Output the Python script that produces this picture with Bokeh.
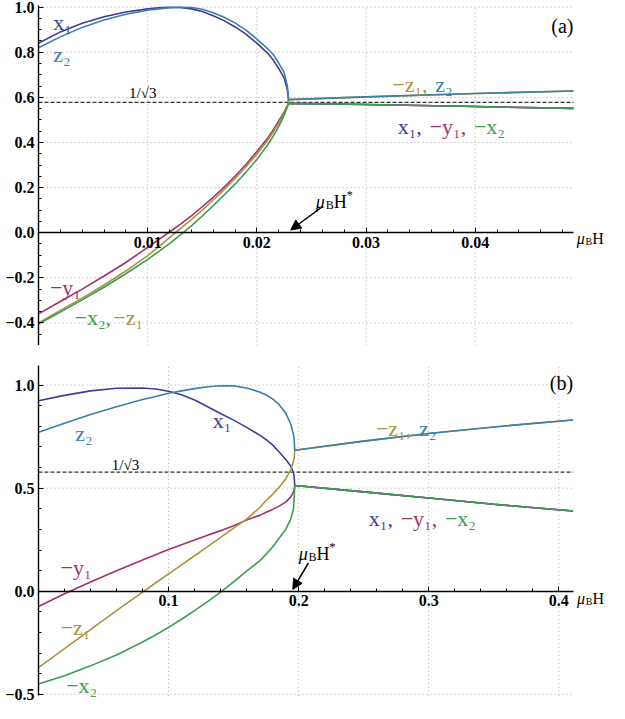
import numpy as np
from bokeh.plotting import figure
from bokeh.layouts import column
from bokeh.models import Range1d, FixedTicker, Label, Arrow, NormalHead, CustomJSTickFormatter
from bokeh.embed import file_html
from bokeh.resources import INLINE

# ---------------- colours ----------------
C_X1 = "#3d3d9e"
C_Y1 = "#a3316f"
C_Z1 = "#a8953b"
C_X2 = "#3b9d54"
C_Z2 = "#3b80a8"
FONT = "Liberation Serif"

# ---------------- panel (a) data ----------------
Hs_a = 0.0229
Ha_pre = [0.0, 0.002, 0.004, 0.006, 0.008, 0.010, 0.011, 0.012, 0.013, 0.014, 0.015, 0.016,
          0.017, 0.018, 0.019, 0.020, 0.021, 0.0215, 0.022, 0.0225, 0.0228, 0.0229]
x1_a = [0.84, 0.89, 0.928, 0.957, 0.978, 0.992, 0.997, 0.999, 0.998, 0.992, 0.98, 0.962,
        0.94, 0.912, 0.88, 0.84, 0.795, 0.765, 0.728, 0.685, 0.632, 0.59]
z2_a = [0.82, 0.868, 0.91, 0.943, 0.968, 0.986, 0.992, 0.997, 0.999, 0.998, 0.99, 0.975,
        0.955, 0.93, 0.898, 0.858, 0.815, 0.79, 0.752, 0.71, 0.648, 0.598]
neg_y1_a = [-0.36, -0.305, -0.25, -0.192, -0.132, -0.065, -0.031, 0.003, 0.038, 0.075, 0.115,
            0.157, 0.202, 0.25, 0.302, 0.36, 0.42, 0.455, 0.495, 0.535, 0.563, 0.58]
neg_z1_a = [-0.40, -0.345, -0.29, -0.232, -0.17, -0.102, -0.063, -0.022, 0.018, 0.058, 0.1,
            0.145, 0.191, 0.24, 0.292, 0.348, 0.41, 0.446, 0.486, 0.53, 0.562, 0.58]
neg_x2_a = [-0.405, -0.352, -0.298, -0.242, -0.182, -0.118, -0.084, -0.048, -0.01, 0.03, 0.074,
            0.12, 0.167, 0.215, 0.268, 0.325, 0.39, 0.428, 0.47, 0.52, 0.558, 0.575]
Ha_post = [0.0229, 0.03, 0.04, 0.049]
upper_a = [0.59, 0.602, 0.617, 0.628]     # -z1, z2
lower_a = [0.573, 0.568, 0.559, 0.551]    # x1, -y1, -x2

xticks_a = [0.01, 0.02, 0.03, 0.04]
yticks_a = [-0.4, -0.2, 0.0, 0.2, 0.4, 0.6, 0.8, 1.0]
ygrid_a = [-0.4, -0.2, 0.2, 0.4, 0.6, 0.8, 1.0]
XMAX_A, YMIN_A, YMAX_A = 0.049, -0.5, 1.007

# ---------------- panel (b) data ----------------
Hs_b = 0.197
Hb_pre = [0.0, 0.02, 0.04, 0.06, 0.08, 0.09, 0.10, 0.11, 0.12, 0.13, 0.14, 0.15, 0.16, 0.17,
          0.175, 0.18, 0.185, 0.19, 0.194, 0.196, 0.1965, 0.197]
x1_b = [0.924, 0.950, 0.972, 0.985, 0.986, 0.981, 0.970, 0.953, 0.928, 0.895, 0.862, 0.83,
        0.795, 0.757, 0.735, 0.71, 0.675, 0.64, 0.606, 0.575, 0.56, 0.513]
z2_b = [0.771, 0.815, 0.857, 0.895, 0.930, 0.945, 0.960, 0.972, 0.983, 0.992, 0.997, 0.996,
        0.986, 0.966, 0.952, 0.933, 0.905, 0.865, 0.81, 0.76, 0.74, 0.684]
neg_y1_b = [-0.074, -0.012, 0.045, 0.099, 0.151, 0.177, 0.202, 0.226, 0.249, 0.272, 0.294,
            0.318, 0.345, 0.368, 0.383, 0.397, 0.413, 0.432, 0.458, 0.482, 0.49, 0.51]
neg_z1_b = [-0.371, -0.278, -0.186, -0.094, -0.004, 0.04, 0.084, 0.128, 0.172, 0.216, 0.261,
            0.306, 0.35, 0.405, 0.44, 0.47, 0.505, 0.545, 0.59, 0.63, 0.645, 0.684]
neg_x2_b = [-0.45, -0.41, -0.362, -0.3095, -0.2465, -0.212, -0.175, -0.136, -0.094, -0.05,
            -0.004, 0.045, 0.097, 0.147, 0.18, 0.215, 0.257, 0.30, 0.35, 0.40, 0.44, 0.51]
Hb_post = [0.197, 0.25, 0.30, 0.35, 0.411]
upper_b = [0.684, 0.728, 0.765, 0.797, 0.831]   # -z1, z2
lower_b = [0.513, 0.482, 0.452, 0.422, 0.389]   # x1, -y1, -x2

xticks_b = [0.1, 0.2, 0.3, 0.4]
yticks_b = [-0.5, 0.0, 0.5, 1.0]
ygrid_b = [-0.5, 0.5, 1.0]
XMAX_B, YMIN_B, YMAX_B = 0.411, -0.507, 1.095

INV_SQRT3 = 1 / np.sqrt(3)

# character advance widths (em) for composing multi-coloured labels
CW = {'x': 0.5, 'y': 0.5, 'z': 0.444, ',': 0.25, ' ': 0.25, '−': 0.564,
      '₁': 0.45, '₂': 0.45}


def twidth(s, size):
    return sum(CW.get(c, 0.5) for c in s) * size


def label(p, x, y, text, color="black", size=21, dx=0, dy=0, align="left",
          style="normal"):
    p.add_layout(Label(x=x, y=y, text=text, text_color=color, text_font=FONT,
                       text_font_size=f"{size}px", text_align=align,
                       text_baseline="alphabetic", x_offset=dx, y_offset=dy,
                       text_font_style=style))


def multi(p, x, y, pieces, size=21, gap=0.25):
    """pieces drawn side by side; gap (em) inserted between pieces (SVG drops
    leading spaces, so spacing is added explicitly)."""
    dx = 0
    for text, color in pieces:
        label(p, x, y, text, color, size, dx=dx)
        dx += twidth(text, size) + gap * size


def mubh(p, x, y, star=True, size=18, dy=0):
    sub = round(size * 0.65)
    label(p, x, y, "μ", "black", size, dy=dy, style="italic")
    label(p, x, y, "B", "black", sub, dx=size * 0.55, dy=dy - 3)
    xh = size * 0.55 + sub * 0.67
    label(p, x, y, "H", "black", size, dx=xh, dy=dy)
    if star:
        label(p, x, y, "*", "black", sub, dx=xh + size * 0.72, dy=dy + 7)


def make_panel(height, xr, yr, xbounds, ybounds, xt, xminor, yt, yminor, ygrid,
               xfmt, yfmt, top, bottom):
    p = figure(width=609, height=height, x_range=Range1d(*xr), y_range=Range1d(*yr),
               output_backend="svg", toolbar_location=None,
               min_border_left=38, min_border_right=0, min_border_top=top,
               min_border_bottom=bottom)
    p.outline_line_color = None
    p.background_fill_color = "white"
    p.border_fill_color = "white"
    p.grid.visible = False
    # grid lines (dotted) restricted to the axes' extent
    gkw = dict(line_color="#a8a8a8", line_dash="1 3", line_width=1)
    p.segment(x0=xt, x1=xt, y0=[ybounds[0]] * len(xt), y1=[ybounds[1]] * len(xt), **gkw)
    p.segment(x0=[0] * len(ygrid), x1=[xbounds[1]] * len(ygrid), y0=ygrid, y1=ygrid, **gkw)
    # 1/sqrt(3) reference line
    p.segment(x0=[0], x1=[xbounds[1]], y0=[INV_SQRT3], y1=[INV_SQRT3],
              line_color="#333333", line_dash="4 2", line_width=1.2)
    # axes
    p.xaxis.fixed_location = 0
    p.xaxis.bounds = xbounds
    p.yaxis.bounds = ybounds
    for ax in (p.xaxis[0], p.yaxis[0]):
        ax.axis_line_color = "black"
        ax.axis_line_width = 1.4
        ax.major_tick_line_color = "black"
        ax.minor_tick_line_color = "black"
        ax.major_tick_in = 5
        ax.major_tick_out = 0
        ax.minor_tick_in = 3
        ax.minor_tick_out = 0
        ax.major_label_text_font = FONT
        ax.major_label_text_font_style = "bold"
        ax.major_label_text_font_size = "16px"
        ax.major_label_text_color = "black"
        ax.major_label_standoff = 4
    p.xaxis.ticker = FixedTicker(ticks=xt, minor_ticks=xminor)
    p.yaxis.ticker = FixedTicker(ticks=yt, minor_ticks=yminor)
    p.xaxis.formatter = CustomJSTickFormatter(code=f"return tick.toFixed({xfmt});")
    p.yaxis.formatter = CustomJSTickFormatter(
        code=f"return tick.toFixed({yfmt}).replace('-', '\\u2212');")
    return p


def curves(p, H_pre, H_post, upper, lower, x1, ny1, nz1, nx2, z2):
    lw = 1.6
    H = H_pre + H_post
    p.line(H, x1 + lower, line_color=C_X1, line_width=lw)
    p.line(H, ny1 + lower, line_color=C_Y1, line_width=lw)
    p.line(H, nz1 + upper, line_color=C_Z1, line_width=lw)
    p.line(H, nx2 + lower, line_color=C_X2, line_width=lw)
    p.line(H, z2 + upper, line_color=C_Z2, line_width=lw)


def minor(start, stop, step, major_step):
    vals = np.round(np.arange(start, stop + 1e-9, step), 4)
    return [float(v) for v in vals if abs(v / major_step - round(v / major_step)) > 1e-6]


# ================= panel (a) =================
pa = make_panel(345, (0, 0.0523), (YMIN_A, YMAX_A), (0, XMAX_A), (YMIN_A, YMAX_A),
                xticks_a, minor(0.002, 0.048, 0.002, 0.01),
                yticks_a, minor(-0.5, 1.0, 0.05, 0.2), ygrid_a, 2, 1, top=5, bottom=0)
curves(pa, Ha_pre, Ha_post, upper_a, lower_a, x1_a, neg_y1_a, neg_z1_a, neg_x2_a, z2_a)

label(pa, 0.00134, 0.93, "x₁", C_X1, 22)
label(pa, 0.00134, 0.79, "z₂", C_Z2, 22)
label(pa, 0.0083, 0.62, "1/√3", "black", 15)
label(pa, 0.00105, -0.245, "−y₁", C_Y1, 22)
multi(pa, 0.0033, -0.378, [("−x₂,", C_X2), ("−z₁", C_Z1)], 22, gap=0)
multi(pa, 0.0324, 0.655, [("−z₁,", C_Z1), ("z₂", C_Z2)], 22)
multi(pa, 0.0329, 0.47, [("x₁,", C_X1), ("−y₁,", C_Y1), ("−x₂", C_X2)], 22)
label(pa, XMAX_A, 0.918, "(a)", "black", 20, align="right")
mubh(pa, 0.0254, 0.138)
pa.add_layout(Arrow(end=NormalHead(size=10, fill_color="black", line_color="black"),
                    x_start=Hs_a + 0.0031, y_start=0.115, x_end=Hs_a + 0.0002, y_end=0.012,
                    line_color="black", line_width=1.5))
mubh(pa, XMAX_A + 0.0003, -0.027, star=False, size=16)

# ================= panel (b) =================
pb = make_panel(358, (0, 0.439), (-0.53, YMAX_B), (0, XMAX_B), (YMIN_B, YMAX_B),
                xticks_b, minor(0.02, 0.40, 0.02, 0.1),
                yticks_b, minor(-0.5, 1.0, 0.1, 0.5), ygrid_b, 1, 1, top=20, bottom=3)
curves(pb, Hb_pre, Hb_post, upper_b, lower_b, x1_b, neg_y1_b, neg_z1_b, neg_x2_b, z2_b)

label(pb, 0.134, 0.829, "x₁", C_X1, 22)
label(pb, 0.0283, 0.766, "z₂", C_Z2, 22)
label(pb, 0.0564, 0.613, "1/√3", "black", 15)
label(pb, 0.017, 0.115, "−y₁", C_Y1, 22)
label(pb, 0.017, -0.177, "−z₁", C_Z1, 22)
label(pb, 0.0213, -0.455, "−x₂", C_X2, 22)
multi(pb, 0.2594, 0.79, [("−z₁,", C_Z1), ("z₂", C_Z2)], 22)
multi(pb, 0.2539, 0.352, [("x₁,", C_X1), ("−y₁,", C_Y1), ("−x₂", C_X2)], 22)
label(pb, XMAX_B, 1.008, "(b)", "black", 20, align="right")
mubh(pb, 0.2, 0.179)
pb.add_layout(Arrow(end=NormalHead(size=10, fill_color="black", line_color="black"),
                    x_start=Hs_b + 0.0105, y_start=0.137, x_end=Hs_b - 0.0015, y_end=0.009,
                    line_color="black", line_width=1.5))
mubh(pb, XMAX_B + 0.003, -0.033, star=False, size=16)

layout = column(pa, pb, spacing=0)
open("out.html", "w").write(file_html(layout, INLINE))
